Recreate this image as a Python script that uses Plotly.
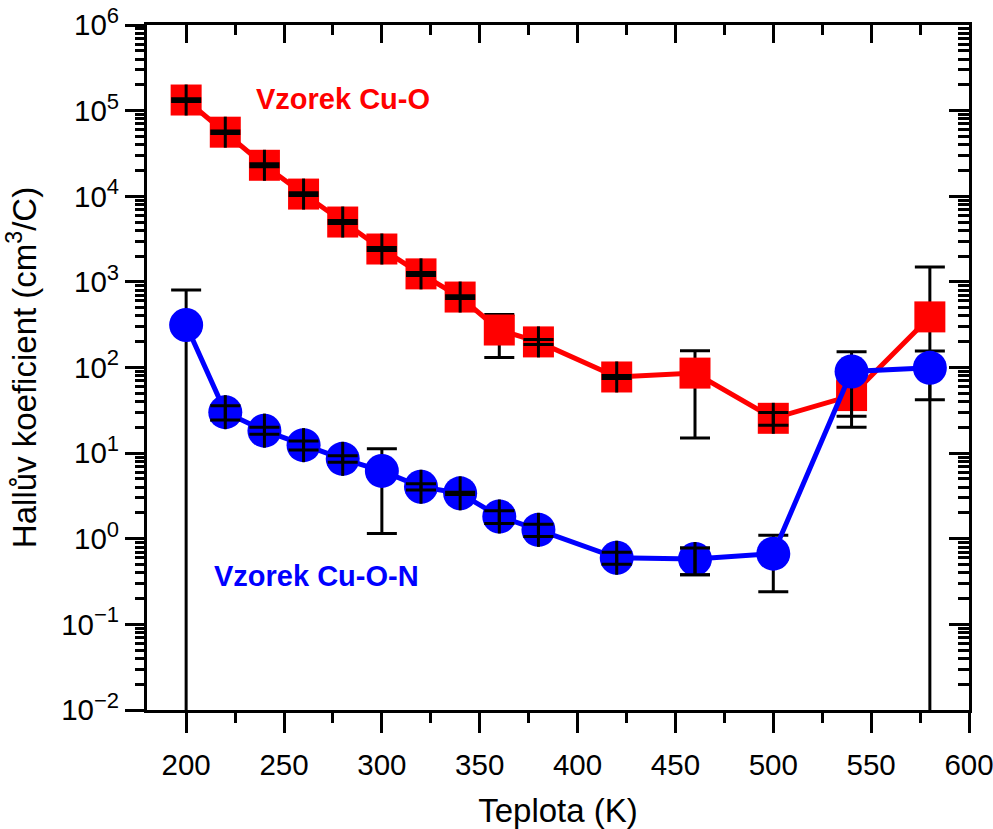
import numpy as np
import plotly.graph_objects as go

# Temperature points (K)
temperature = [200, 220, 240, 260, 280, 300, 320, 340, 360, 380, 420, 460, 500, 540, 580]

# Hall coefficient (cm^3/C) and its uncertainty, sample Cu-O
hall_cuo = [1.33e5, 5.6e4, 2.3e4, 1.06e4, 5.0e3, 2.42e3, 1.24e3, 665, 274, 199, 77.5, 86, 25.5, 47, 390]
hall_cuo_err = [5e3, 2e3, 9e2, 4e2, 2e2, 1e2, 50, 25, 143, 13, 3, 71, 4.3, 27, 1100]

# Hall coefficient (cm^3/C) and its uncertainty, sample Cu-O-N
hall_cuon = [313, 30.1, 18.3, 12.4, 8.57, 6.2, 4.05, 3.39, 1.82, 1.27, 0.60, 0.58, 0.67, 90, 99]
hall_cuon_err = [490, 5.7, 1.7, 1.5, 0.76, 5.05, 0.33, 0.1, 0.31, 0.21, 0.095, 0.20, 0.43, 63, 57]

x_ticks = [200, 250, 300, 350, 400, 450, 500, 550, 600]
y_exponents = [-2, -1, 0, 1, 2, 3, 4, 5, 6]
y_ticks = [10.0 ** e for e in y_exponents]
y_ticktext = ["10<sup><span style='font-size:22px'>%s</span></sup>"
              % (str(e).replace("-", "\u2212")) for e in y_exponents]
y_minor = [m * 10.0 ** e for e in y_exponents[:-1] for m in range(2, 10)]

# Figure geometry
W, H = 993, 829
ML, MR, MT, MB = 147, 24, 25, 119
X_RANGE = [180, 600]
Y_RANGE = [-2, 6]  # log10
PX_PER_DECADE = (H - MT - MB) / (Y_RANGE[1] - Y_RANGE[0])

RED = "#FF0000"
BLUE = "#0000FF"
SQUARE_SIZE = 31
CIRCLE_SIZE = 34
FONT = "Liberation Sans, Arial, sans-serif"

fig = go.Figure()


def err_style(err, **kw):
    d = dict(type="data", array=list(err), symmetric=True, color="black",
             thickness=3, width=15)
    d.update(kw)
    return d


def add_series(y, err, color, symbol, size):
    fig.add_trace(go.Scatter(
        x=temperature, y=y, mode="lines+markers",
        line=dict(color=color, width=5),
        marker=dict(symbol=symbol, size=size, color=color, line=dict(width=0)),
        error_y=err_style(err),
        showlegend=False, hoverinfo="skip",
    ))


def add_inner_bars(y, err, size):
    """Error bars whose caps fall inside the symbol are redrawn on top,
    with the stem running across the whole symbol."""
    y = np.asarray(y, float)
    err = np.asarray(err, float)
    x = np.asarray(temperature, float)
    inside = err / y < 0.4
    k = 10 ** ((size / 2) / PX_PER_DECADE)
    ys = y[inside]
    fig.add_trace(go.Scatter(
        x=x[inside], y=ys, mode="markers", xaxis="x2", yaxis="y2",
        marker=dict(size=1, opacity=0),
        error_y=dict(type="data", symmetric=False, array=list(ys * (k - 1)),
                     arrayminus=list(ys * (1 - 1 / k)), color="black",
                     thickness=3, width=0),
        showlegend=False, hoverinfo="skip",
    ))
    fig.add_trace(go.Scatter(
        x=x[inside], y=ys, mode="markers", xaxis="x2", yaxis="y2",
        marker=dict(size=1, opacity=0),
        error_y=err_style(err[inside]),
        showlegend=False, hoverinfo="skip",
    ))


add_series(hall_cuo, hall_cuo_err, RED, "square", SQUARE_SIZE)
add_series(hall_cuon, hall_cuon_err, BLUE, "circle", CIRCLE_SIZE)
add_inner_bars(hall_cuo, hall_cuo_err, SQUARE_SIZE)
add_inner_bars(hall_cuon, hall_cuon_err, CIRCLE_SIZE)

tick_font = dict(family=FONT, size=29.5, color="black")
title_font = dict(family=FONT, size=33, color="black")

fig.update_layout(
    width=W, height=H,
    margin=dict(l=ML, r=MR, t=MT, b=MB, pad=0, autoexpand=False),
    paper_bgcolor="white", plot_bgcolor="white",
    showlegend=False,
    xaxis=dict(
        range=X_RANGE, tickvals=x_ticks, ticks="outside", ticklen=20, tickwidth=3,
        tickcolor="black", showline=True, linewidth=3, linecolor="black",
        showgrid=False, zeroline=False, tickfont=tick_font, ticklabelstandoff=7,
        ticklabeloverflow="allow", automargin=False,
        minor=dict(dtick=25, tick0=200, ticks="outside", ticklen=10, tickwidth=3,
                   tickcolor="black", showgrid=False),
        title=dict(text="Teplota (K)", font=title_font, standoff=27),
    ),
    yaxis=dict(
        type="log", range=Y_RANGE, tickvals=y_ticks, ticktext=y_ticktext,
        ticks="outside", ticklen=19, tickwidth=3, tickcolor="black",
        showline=True, linewidth=3, linecolor="black", showgrid=False,
        zeroline=False, tickfont=tick_font, ticklabelstandoff=0,
        ticklabeloverflow="allow", automargin=False,
        minor=dict(tickvals=y_minor, ticks="outside", ticklen=9, tickwidth=2.5,
                   tickcolor="black", showgrid=False),
        title=dict(text="Hallův koeficient (cm<sup>3</sup>/C)", font=title_font,
                   standoff=15),
    ),
    xaxis2=dict(
        overlaying="x", side="top", range=X_RANGE, tickvals=x_ticks,
        ticks="inside", ticklen=18, tickwidth=3, tickcolor="black",
        showticklabels=False, showline=True, linewidth=3, linecolor="black",
        showgrid=False, zeroline=False, automargin=False,
        minor=dict(dtick=25, tick0=200, ticks="inside", ticklen=10, tickwidth=3,
                   tickcolor="black", showgrid=False),
    ),
    yaxis2=dict(
        overlaying="y", side="right", type="log", range=Y_RANGE, tickvals=y_ticks,
        ticks="inside", ticklen=20, tickwidth=3, tickcolor="black",
        showticklabels=False, showline=True, linewidth=3, linecolor="black",
        showgrid=False, zeroline=False, automargin=False,
        minor=dict(tickvals=y_minor, ticks="inside", ticklen=11, tickwidth=2.5,
                   tickcolor="black", showgrid=False),
    ),
    annotations=[
        dict(text="<b>Vzorek Cu-O</b>", xref="paper", yref="paper",
             x=(343 - ML) / (W - ML - MR), y=(H - MB - 99) / (H - MT - MB),
             xanchor="center", yanchor="middle", showarrow=False,
             font=dict(family=FONT, size=29, color=RED)),
        dict(text="<b>Vzorek Cu-O-N</b>", xref="paper", yref="paper",
             x=(316 - ML) / (W - ML - MR), y=(H - MB - 576) / (H - MT - MB),
             xanchor="center", yanchor="middle", showarrow=False,
             font=dict(family=FONT, size=29, color=BLUE)),
    ],
)

fig.write_html("out.html")
